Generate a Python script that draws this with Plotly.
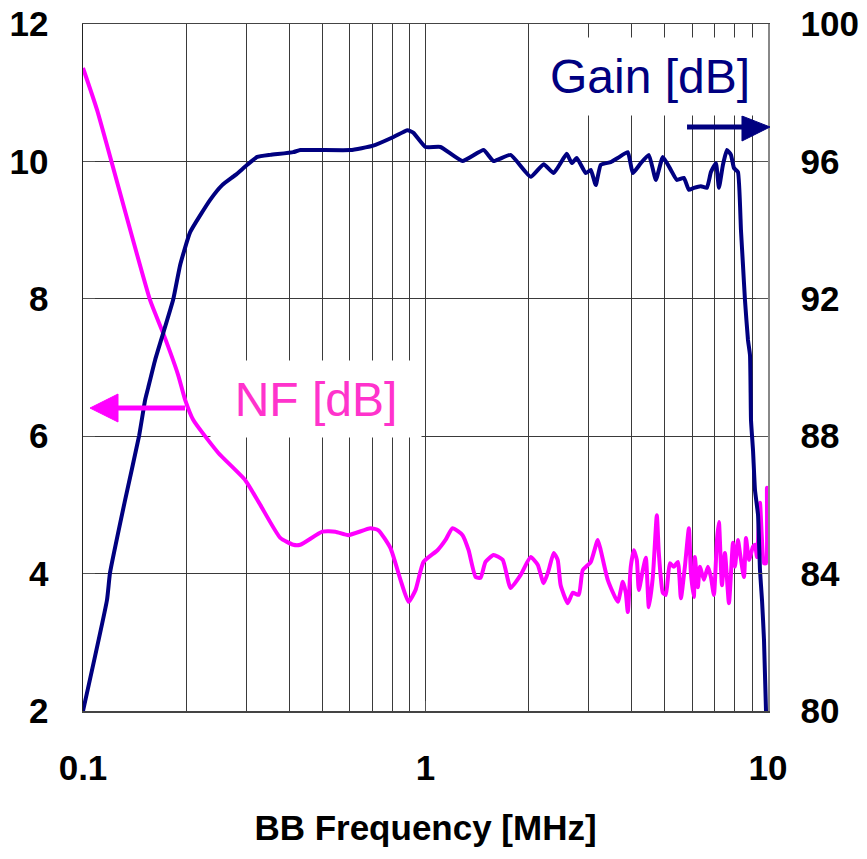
import plotly.graph_objects as go

# ---------------- data ----------------
gain_freq = [0.100, 0.1175, 0.1199, 0.1327, 0.1458, 0.1518, 0.1549, 0.1624, 0.1833, 0.1921,
             0.2055, 0.2351, 0.2549, 0.2783, 0.3017, 0.3227, 0.3522, 0.4112, 0.4310, 0.6035,
             0.6998, 0.8064, 0.8858, 0.9224, 1.000, 1.106, 1.283, 1.478, 1.580, 1.772,
             2.028, 2.213, 2.367, 2.584, 2.673, 2.764, 2.937, 3.038, 3.141, 3.248,
             3.474, 3.642, 3.896, 4.030, 4.253, 4.488, 4.705, 4.932, 5.205, 5.419,
             5.681, 5.875, 6.076, 6.369, 6.631, 6.813, 7.047, 7.190, 7.386, 7.588,
             7.795, 7.954, 8.171, 8.338, 8.452, 8.565, 8.741, 8.860, 8.920, 9.040,
             9.163, 9.351, 9.476, 9.605, 9.734, 9.867]
gain_db = [80.0, 83.23, 84.02, 86.14, 88.01, 89.05, 89.40, 90.22, 91.97, 92.98,
           93.94, 94.88, 95.31, 95.60, 95.90, 96.13, 96.19, 96.27, 96.33, 96.33,
           96.45, 96.71, 96.91, 96.83, 96.42, 96.42, 96.01, 96.33, 96.01, 96.19,
           95.55, 95.92, 95.66, 96.22, 95.95, 96.10, 95.66, 95.75, 95.31, 95.90,
           95.98, 96.10, 96.27, 95.66, 95.95, 96.19, 95.46, 96.13, 95.75, 95.46,
           95.52, 95.17, 95.23, 95.28, 95.23, 95.69, 95.95, 95.23, 95.90, 96.33,
           96.19, 95.81, 95.69, 94.00, 92.98, 91.97, 90.80, 90.36, 88.47, 87.60,
           86.43, 85.71, 84.10, 83.23, 82.07, 80.0]

nf_freq = [0.100, 0.1099, 0.157, 0.1714, 0.1896, 0.1987, 0.2097, 0.2481, 0.2977, 0.3293,
           0.3767, 0.4112, 0.431, 0.4998, 0.5456, 0.5956, 0.6905, 0.7287, 0.7902, 0.8452,
           0.892, 0.935, 0.9867, 1.084, 1.144, 1.199, 1.283, 1.336, 1.401, 1.448,
           1.497, 1.580, 1.680, 1.772, 1.896, 2.028, 2.126, 2.213, 2.289, 2.367,
           2.432, 2.481, 2.602, 2.691, 2.802, 2.878, 3.038, 3.184, 3.248, 3.405,
           3.642, 3.767, 3.844, 3.896, 3.975, 4.057, 4.140, 4.196, 4.311, 4.399,
           4.488, 4.610, 4.736, 4.800, 4.932, 5.032, 5.169, 5.310, 5.456, 5.567,
           5.719, 5.875, 5.955, 6.076, 6.116, 6.241, 6.326, 6.500, 6.677, 6.813,
           6.952, 7.095, 7.190, 7.337, 7.487, 7.691, 7.901, 8.008, 8.171, 8.282,
           8.509, 8.625, 8.801, 9.040, 9.163, 9.287, 9.476, 9.734, 9.867, 9.930,
           10.0]
nf_db = [11.36, 10.75, 7.98, 7.50, 6.89, 6.53, 6.24, 5.76, 5.36, 5.00,
         4.52, 4.42, 4.42, 4.61, 4.61, 4.56, 4.66, 4.63, 4.37, 3.91,
         3.59, 3.76, 4.17, 4.34, 4.49, 4.66, 4.56, 4.34, 3.95, 3.94,
         4.17, 4.27, 4.20, 3.79, 3.98, 4.24, 4.13, 3.86, 4.05, 4.30,
         4.20, 3.83, 3.57, 3.72, 3.69, 4.05, 4.17, 4.49, 4.34, 3.91,
         3.59, 3.88, 3.72, 3.44, 4.10, 4.34, 4.20, 3.76, 4.05, 4.23,
         3.51, 3.95, 4.85, 4.30, 3.72, 3.69, 4.15, 4.10, 4.17, 3.64,
         4.10, 4.66, 4.01, 3.66, 4.24, 3.80, 4.10, 3.91, 4.10, 3.95,
         3.69, 4.49, 4.75, 3.83, 4.30, 3.57, 4.45, 4.10, 4.49, 4.30,
         3.95, 4.52, 4.20, 4.39, 4.42, 4.24, 5.03, 4.15, 4.15, 5.25,
         4.85]

x_major = [0.1, 1, 10]
x_major_text = ["0.1", "1", "10"]
x_minor = [0.2, 0.3, 0.4, 0.5, 0.6, 0.7, 0.8, 0.9, 2, 3, 4, 5, 6, 7, 8, 9]

nf_label = "NF [dB]"
gain_label = "Gain [dB]"
x_title = "BB Frequency [MHz]"

# ---------------- styling ----------------
FONT = "Liberation Sans, Arial, Helvetica, sans-serif"
NAVY = "#000080"
MAGENTA = "#FF00FF"
NF_TEXT = "#FF33CC"
GRID = "#3a3a3a"

fig = go.Figure()
fig.add_trace(go.Scatter(x=nf_freq, y=nf_db, mode="lines", name="NF",
                         line=dict(color=MAGENTA, width=4, shape="spline", smoothing=0.5),
                         yaxis="y", hoverinfo="skip"))
fig.add_trace(go.Scatter(x=gain_freq, y=gain_db, mode="lines", name="Gain",
                         line=dict(color=NAVY, width=4, shape="spline", smoothing=0.4),
                         yaxis="y2", hoverinfo="skip"))

tickfont = dict(family=FONT, size=35, color="black", weight="bold")

fig.update_layout(
    width=867, height=859,
    margin=dict(l=83, r=99, t=24, b=148),
    plot_bgcolor="white", paper_bgcolor="white",
    showlegend=False,
    xaxis=dict(
        type="log", range=[-1, 1], automargin=False,
        tickvals=x_major, ticktext=x_major_text,
        showgrid=True, gridcolor=GRID, gridwidth=1,
        minor=dict(tickvals=x_minor, showgrid=True, gridcolor=GRID, gridwidth=1, ticks=""),
        ticks="inside", ticklen=10, tickcolor="#555",
        showline=True, linecolor="#444", linewidth=1.5, mirror=True,
        tickfont=tickfont, ticklabelstandoff=25, ticklabeloverflow="allow",
        title=dict(text=x_title, font=dict(family=FONT, size=35, color="black", weight="bold"),
                   standoff=30),
        zeroline=False,
    ),
    yaxis=dict(
        range=[2, 12], tick0=2, dtick=2, automargin=False,
        showgrid=True, gridcolor=GRID, gridwidth=1,
        ticks="inside", ticklen=12, tickcolor="#555",
        showline=True, linecolor="#222", linewidth=1.5,
        tickfont=tickfont, ticklabelstandoff=26, ticklabeloverflow="allow",
        zeroline=False,
    ),
    yaxis2=dict(
        range=[80, 100], tick0=80, dtick=4, automargin=False,
        overlaying="y", side="right",
        showgrid=False,
        ticks="inside", ticklen=12, tickcolor="#555",
        showline=True, linecolor="#888", linewidth=1.5,
        tickfont=tickfont, ticklabelstandoff=24, ticklabeloverflow="allow",
        zeroline=False,
    ),
)

# label boxes (white background hides the grid, as in the reference)
fig.add_annotation(xref="paper", yref="paper", x=0.3395, y=0.4541,
                   xanchor="center", yanchor="middle",
                   text=nf_label, showarrow=False, width=208, height=74,
                   bgcolor="white", font=dict(family=FONT, size=48, color=NF_TEXT))
fig.add_annotation(xref="paper", yref="paper", x=0.8280, y=0.9240,
                   xanchor="center", yanchor="middle",
                   text=gain_label, showarrow=False, width=224, height=75,
                   bgcolor="white", font=dict(family=FONT, size=48, color=NAVY))

# arrows pointing to the respective axes
fig.add_shape(type="line", xref="paper", yref="paper",
              x0=0.1489, x1=0.045, y0=0.4410, y1=0.4410,
              line=dict(color=MAGENTA, width=5))
fig.add_shape(type="path", xref="paper", yref="paper",
              path="M 0.0102 0.4410 L 0.0511 0.4614 L 0.0511 0.4207 Z",
              fillcolor=MAGENTA, line=dict(color=MAGENTA, width=1))
fig.add_shape(type="line", xref="paper", yref="paper",
              x0=0.8818, x1=0.965, y0=0.8501, y1=0.8501,
              line=dict(color=NAVY, width=5))
fig.add_shape(type="path", xref="paper", yref="paper",
              path="M 1.0029 0.8501 L 0.9620 0.8661 L 0.9620 0.8297 Z",
              fillcolor=NAVY, line=dict(color=NAVY, width=1))

# remove the browser's default 8 px page margin so the figure fills the window
fig.write_html("out.html",
               config={"displayModeBar": False, "staticPlot": True},
               post_script="document.body.style.margin='0';document.body.style.overflow='hidden';")
